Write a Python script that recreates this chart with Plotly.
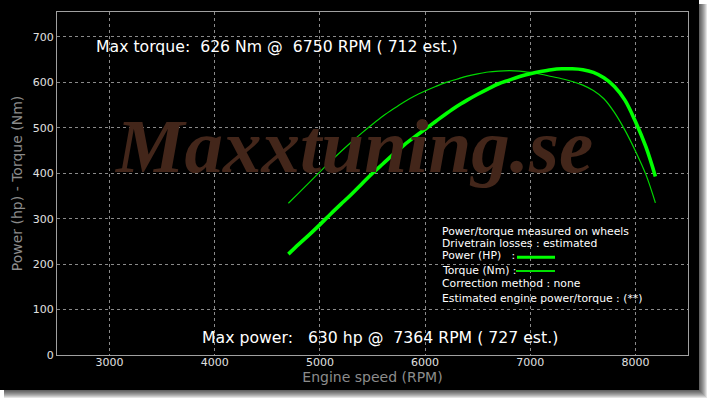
import plotly.graph_objects as go

# ---- data ----
rpm = [4700, 4800, 4900, 5000, 5100, 5200, 5300, 5400, 5500, 5600, 5700, 5800,
       5900, 6000, 6100, 6200, 6300, 6400, 6500, 6600, 6700, 6800, 6900, 7000,
       7100, 7200, 7300, 7400, 7500, 7600, 7700, 7800, 7900, 8000, 8100, 8190]
power_hp = [222, 244, 265, 287, 310, 332, 354, 377, 400, 421, 442, 462,
            480, 497, 514, 531, 547, 561, 574, 586, 597, 605, 613, 619,
            624, 628, 630, 630, 628, 622, 610, 591, 561, 514, 458, 393]
torque_nm = [334, 357, 380, 403, 426, 448, 469, 489, 508, 526, 542, 557,
             570, 581, 591, 600, 607, 614, 619, 623, 625, 626, 625, 622,
             618, 613, 608, 602, 594, 582, 564, 534, 495, 449, 397, 335]

x_ticks = [3000, 4000, 5000, 6000, 7000, 8000]
y_ticks = [0, 100, 200, 300, 400, 500, 600, 700]

max_torque_text = "Max torque:\u00a0 626 Nm @\u00a0 6750 RPM ( 712 est.)"
max_power_text = "Max power:\u00a0\u00a0 630 hp @\u00a0 7364 RPM ( 727 est.)"
info_lines = [
    "Power/torque measured on wheels",
    "Drivetrain losses : estimated",
    "Power (HP)\u00a0\u00a0 :",
    "Torque (Nm) :",
    "Correction method : none",
    "Estimated engine power/torque : (**)",
]
watermark = "Maxxtuning.se"

# ---- layout geometry (pixels) ----
W, H = 708, 400
L, R, T, B = 57, 688, 12, 355
pw, ph = R - L, B - T


def px(x):
    return (x - L) / pw


def py(y):
    return (B - y) / ph


fig = go.Figure()

fig.add_trace(go.Scatter(x=rpm, y=torque_nm, mode="lines",
                         line=dict(color="#00d800", width=1.2, shape="spline",
                                   smoothing=1.0),
                         showlegend=False, hoverinfo="skip"))
fig.add_trace(go.Scatter(x=rpm, y=power_hp, mode="lines",
                         line=dict(color="#00ff00", width=3.6, shape="spline",
                                   smoothing=1.0),
                         showlegend=False, hoverinfo="skip"))

shapes = []
# drop shadow
for d in range(8, 0, -1):
    shapes.append(dict(type="rect", xref="paper", yref="paper",
                       x0=px(4), x1=px(699 + d), y0=py(390 + d), y1=py(4),
                       fillcolor="rgba(0,0,0,0.11)", line=dict(width=0),
                       layer="below"))
# black background card
shapes.append(dict(type="rect", xref="paper", yref="paper",
                   x0=px(0), x1=px(699), y0=py(390), y1=py(0),
                   fillcolor="#000000", line=dict(width=0), layer="below"))
# legend sample lines
shapes.append(dict(type="line", xref="paper", yref="paper",
                   x0=px(517), x1=px(555), y0=py(257.3), y1=py(257.3),
                   line=dict(color="#00ff00", width=3)))
shapes.append(dict(type="line", xref="paper", yref="paper",
                   x0=px(516), x1=px(555), y0=py(271), y1=py(271),
                   line=dict(color="#00e000", width=2)))

annotations = [
    dict(text="<i><b>" + watermark + "</b></i>", xref="paper", yref="paper",
         x=px(353), y=py(146), xanchor="center", yanchor="middle",
         showarrow=False,
         font=dict(family="Liberation Serif", size=77, color="#43261a")),
    dict(text=max_torque_text, xref="paper", yref="paper",
         x=px(94), y=py(46), xanchor="left", yanchor="middle", showarrow=False,
         font=dict(family="DejaVu Sans", size=15.7, color="#ffffff")),
    dict(text=max_power_text, xref="paper", yref="paper",
         x=px(200), y=py(337), xanchor="left", yanchor="middle", showarrow=False,
         font=dict(family="DejaVu Sans", size=15.7, color="#ffffff")),
]
info_y = [231.7, 243.3, 255.7, 270.7, 283.3, 298.3]
for t, yy in zip(info_lines, info_y):
    annotations.append(dict(text=t, xref="paper", yref="paper",
                            x=px(440), y=py(yy), xanchor="left",
                            yanchor="middle", showarrow=False,
                            font=dict(family="DejaVu Sans", size=10.8,
                                      color="#ffffff")))

axis_common = dict(showgrid=True, gridcolor="#8a8a8a", griddash="dot",
                   gridwidth=1, showline=True, linecolor="#a0a0a0",
                   linewidth=1, mirror=True, zeroline=False, ticks="",
                   tickfont=dict(family="DejaVu Sans", size=11,
                                 color="#e0e0e0"))

fig.update_layout(
    width=W, height=H,
    margin=dict(l=L, r=W - R, t=T, b=H - B),
    paper_bgcolor="#ffffff",
    plot_bgcolor="rgba(0,0,0,0)",
    shapes=shapes,
    annotations=annotations,
    xaxis=dict(range=[2500, 8500], tickvals=x_ticks, ticklabelstandoff=-3,
               title=dict(text="Engine speed (RPM)", standoff=0,
                          font=dict(family="DejaVu Sans", size=14,
                                    color="#8c8c8c")),
               **axis_common),
    yaxis=dict(range=[0, 755], tickvals=y_ticks,
               title=dict(text="Power (hp) - Torque (Nm)", standoff=6,
                          font=dict(family="DejaVu Sans", size=14,
                                    color="#8c8c8c")),
               **axis_common),
)

fig.write_html("out.html",
               config={"displayModeBar": False, "staticPlot": True},
               post_script="document.body.style.margin='0';"
                           "document.body.style.overflow='hidden';")
